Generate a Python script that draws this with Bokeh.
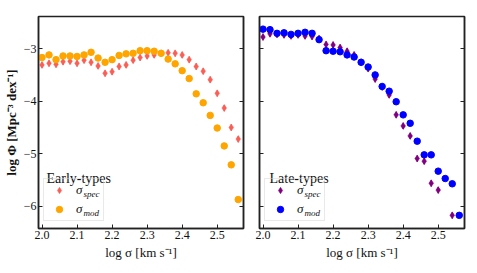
from bokeh.plotting import figure
from bokeh.layouts import row
from bokeh.models import FixedTicker, LinearAxis, Legend, LegendItem, Label, Range1d
from bokeh.embed import file_html
from bokeh.resources import INLINE

# ---------------- data ----------------
log_sigma = [2.00, 2.02, 2.04, 2.06, 2.08, 2.10, 2.12, 2.14, 2.16, 2.18,
             2.20, 2.22, 2.24, 2.26, 2.28, 2.30, 2.32, 2.34, 2.36, 2.38,
             2.40, 2.42, 2.44, 2.46, 2.48, 2.50, 2.52, 2.54, 2.56]

early_spec = [-3.31, -3.28, -3.30, -3.25, -3.24, -3.28, -3.22, -3.26, -3.33, -3.47,
              -3.44, -3.34, -3.31, -3.22, -3.17, -3.14, -3.12, -3.09, -3.08, -3.09,
              -3.12, -3.21, -3.34, -3.43, -3.59, -3.85, -4.13, -4.50, -4.72]
early_mod = [-3.17, -3.12, -3.21, -3.14, -3.14, -3.15, -3.12, -3.07, -3.18, -3.26,
             -3.21, -3.13, -3.10, -3.09, -3.04, -3.04, -3.05, -3.09, -3.20, -3.29,
             -3.42, -3.57, -3.86, -4.03, -4.27, -4.51, -4.85, -5.21, -5.87]

late_spec_x = [2.00, 2.02, 2.04, 2.06, 2.08, 2.10, 2.12, 2.14, 2.16, 2.18,
               2.20, 2.22, 2.24, 2.26, 2.28, 2.30, 2.32, 2.34, 2.36, 2.38,
               2.40, 2.42, 2.44, 2.46, 2.48, 2.50, 2.54]
late_spec = [-2.78, -2.72, -2.73, -2.74, -2.76, -2.74, -2.76, -2.77, -2.81, -2.92,
             -2.93, -2.98, -3.05, -3.12, -3.26, -3.38, -3.58, -3.73, -3.88, -4.26,
             -4.47, -4.66, -5.09, -5.14, -5.56, -5.69, -6.17]
late_mod = [-2.63, -2.64, -2.71, -2.70, -2.73, -2.71, -2.69, -2.71, -2.83, -3.04,
            -3.05, -3.06, -3.12, -3.16, -3.26, -3.35, -3.50, -3.72, -3.81, -4.01,
            -4.26, -4.42, -4.76, -5.02, -5.02, -5.33, -5.47, -5.57, -6.17]

spec_err = 0.06  # half-length of the small error bars on the spec points

x_ticks = [2.0, 2.1, 2.2, 2.3, 2.4, 2.5]
x_tick_labels = ["2.0", "2.1", "2.2", "2.3", "2.4", "2.5"]
y_ticks = [-6, -5, -4, -3]
y_tick_labels = ["\u22126", "\u22125", "\u22124", "\u22123"]

FONT = "Liberation Serif"
x_range = Range1d(1.99, 2.575)
y_range = Range1d(-6.42, -2.39)


def style_axis(ax, ticks, labels, show_labels=True):
    ax.ticker = FixedTicker(ticks=ticks)
    ax.major_tick_in = 4
    ax.major_tick_out = 0
    ax.minor_tick_line_color = None
    ax.major_tick_line_color = "#222222"
    ax.major_tick_line_width = 1
    ax.axis_line_color = "#222222"
    ax.axis_line_width = 1.5
    ax.major_label_text_font = FONT
    ax.major_label_standoff = 2
    if show_labels:
        ax.major_label_overrides = {t: l for t, l in zip(ticks, labels)}
        ax.major_label_text_font_size = "12px"
        ax.major_label_text_color = "#111111"
    else:
        ax.major_label_text_font_size = "0px"
        ax.major_label_text_color = None
        ax.major_label_standoff = 0


def make_panel(spec_x, spec_y, mod_x, mod_y, spec_color, mod_color, title,
               show_ylabels, border_left, border_right, title_dx):
    p = figure(frame_width=205, frame_height=212, x_range=x_range, y_range=y_range,
               output_backend="svg", toolbar_location=None,
               min_border_left=border_left, min_border_right=border_right,
               min_border_top=16, min_border_bottom=10)
    p.grid.visible = False
    p.outline_line_color = "#222222"
    p.outline_line_width = 1.5
    p.background_fill_color = "white"
    p.border_fill_color = "white"

    style_axis(p.xaxis[0], x_ticks, x_tick_labels)
    style_axis(p.yaxis[0], y_ticks, y_tick_labels, show_ylabels)
    rax = LinearAxis()
    style_axis(rax, y_ticks, y_tick_labels, False)
    p.add_layout(rax, "right")

    p.xaxis[0].axis_label = "log \u03c3 [km s\u207b\u00b9]"
    p.xaxis[0].axis_label_text_font = FONT
    p.xaxis[0].axis_label_text_font_style = "normal"
    p.xaxis[0].axis_label_text_font_size = "13px"
    p.xaxis[0].axis_label_standoff = 3
    p.xaxis[0].axis_label_text_color = "#111111"
    if show_ylabels:
        p.yaxis[0].axis_label = "log \u03a6 [Mpc\u207b\u00b3 dex\u207b\u00b9]"
        p.yaxis[0].axis_label_text_font = FONT
        p.yaxis[0].axis_label_text_font_style = "bold"
        p.yaxis[0].axis_label_text_font_size = "13px"
        p.yaxis[0].axis_label_standoff = 2
        p.yaxis[0].axis_label_text_color = "#111111"

    # spec: thin diamonds with small vertical error bars
    p.segment(x0=spec_x, x1=spec_x,
              y0=[v - spec_err for v in spec_y], y1=[v + spec_err for v in spec_y],
              line_color=spec_color, line_width=1.2)
    r_spec = p.scatter(spec_x, spec_y, marker="diamond", size=7,
                       fill_color=spec_color, line_color=spec_color, line_width=0.5)
    r_mod = p.scatter(mod_x, mod_y, marker="circle", size=6.5,
                      fill_color=mod_color, line_color=mod_color)

    leg = Legend(items=[LegendItem(label="\u03c3", renderers=[r_spec]),
                        LegendItem(label="\u03c3", renderers=[r_mod])],
                 location=(5, 7), orientation="vertical",
                 glyph_width=24, glyph_height=16, label_height=16, label_width=24,
                 label_standoff=5, spacing=3, padding=3, margin=0,
                 label_text_font=FONT, label_text_font_style="italic",
                 label_text_font_size="13px", label_text_line_height=1.0,
                 label_text_color="#111111",
                 border_line_color="#d4d4d4", border_line_width=1,
                 background_fill_color="white", background_fill_alpha=0.0)
    p.add_layout(leg, "center")

    for txt, yy in (("spec", 34.5), ("mod", 15.5)):
        p.add_layout(Label(x=45, y=yy, x_units="screen", y_units="screen", text=txt,
                           text_font=FONT, text_font_style="italic",
                           text_font_size="9px", text_color="#111111",
                           text_baseline="alphabetic"))
    p.add_layout(Label(x=title_dx, y=50.5, x_units="screen", y_units="screen",
                       text=title, text_font=FONT, text_font_size="14px",
                       text_color="#111111", text_baseline="alphabetic"))
    return p


p1 = make_panel(log_sigma, early_spec, log_sigma, early_mod, "#fa5f55", "#ffa500",
                "Early-types", True, 32, 8, 8)
p2 = make_panel(late_spec_x, late_spec, log_sigma, late_mod, "#800080", "#0000ff",
                "Late-types", False, 8, 3, 10)

layout = row(p1, p2, spacing=0)
open("out.html", "w").write(file_html(layout, INLINE))
